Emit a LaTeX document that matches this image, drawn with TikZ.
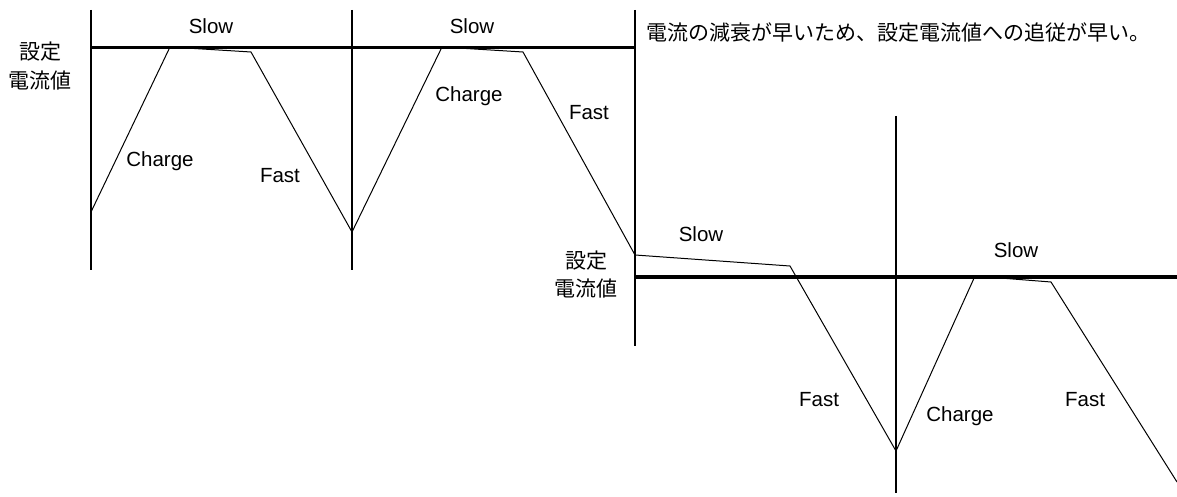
\documentclass[tikz,border=0pt]{standalone}
\usepackage{fontspec}
\setmainfont{Liberation Sans}
\newfontfamily\jp{Noto Sans CJK JP}
\usepackage{tikz}
\usetikzlibrary{calc}

\begin{document}
\begin{tikzpicture}[x=1pt, y=-1pt,
        lbl/.style={inner sep=0pt, font=\fontsize{20.5}{24}\selectfont},
        jlbl/.style={inner sep=0pt, align=center, font=\jp\fontsize{21}{28.5}\selectfont},
        axis/.style={line width=1.1pt},
        target/.style={line width=3.6pt},
        wave/.style={line width=1pt, line join=miter}]
        \useasboundingbox (0,0) rectangle (1177,497);
        % time divisions
        \coordinate (t1a) at (91,10);   \coordinate (t1b) at (91,270);
        \coordinate (t2a) at (352,10);  \coordinate (t2b) at (352,270);
        \coordinate (t3a) at (635,10);  \coordinate (t3b) at (635,346);
        \coordinate (t4a) at (896,116); \coordinate (t4b) at (896,493);
        \draw[axis] (t1a) -- (t1b);
        \draw[axis] (t2a) -- (t2b);
        \draw[axis] (t3a) -- (t3b);
        \draw[axis] (t4a) -- (t4b);
        % set current
        \coordinate (r1a) at (91,47.5);  \coordinate (r1b) at (635,47.5);
        \coordinate (r2a) at (635,277);  \coordinate (r2b) at (1177,277);
        \draw[target] (r1a) -- (r1b);
        \draw[target] (r2a) -- (r2b);
        % current
        \coordinate (p0) at (91,212);
        \coordinate (p1) at (170,47);
        \coordinate (p2) at (251,52);
        \coordinate (p3) at (352,232);
        \coordinate (p4) at (442,47);
        \coordinate (p5) at (523,52);
        \coordinate (p6) at (635,255);
        \coordinate (p7) at (790,266);
        \coordinate (p8) at (896,451);
        \coordinate (p9) at (975,276);
        \coordinate (p10) at (1051,282);
        \coordinate (p11) at (1177,482);
        \draw[wave] (p0) -- (p1) -- (p2) -- (p3) -- (p4) -- (p5) -- (p6)
            -- (p7) -- (p8) -- (p9) -- (p10) -- (p11);
        % labels
        \node[jlbl] (set1) at (40,66) {設定\\電流値};
        \node[jlbl] (set2) at (586,274.5) {設定\\電流値};
        \node[jlbl, anchor=west] (note) at (646,33) {電流の減衰が早いため、設定電流値への追従が早い。};
        \node[lbl] (s1) at (211,26) {Slow};
        \node[lbl] (s2) at (472,26) {Slow};
        \node[lbl] (s3) at (701,234) {Slow};
        \node[lbl] (s4) at (1016,250) {Slow};
        \node[lbl] (c1) at (160,161) {Charge};
        \node[lbl] (c2) at (469,96) {Charge};
        \node[lbl] (c3) at (960,416) {Charge};
        \node[lbl] (f1) at (280,176) {Fast};
        \node[lbl] (f2) at (589,113) {Fast};
        \node[lbl] (f3) at (819,400) {Fast};
        \node[lbl] (f4) at (1085,400) {Fast};
    \end{tikzpicture}
\end{document}
